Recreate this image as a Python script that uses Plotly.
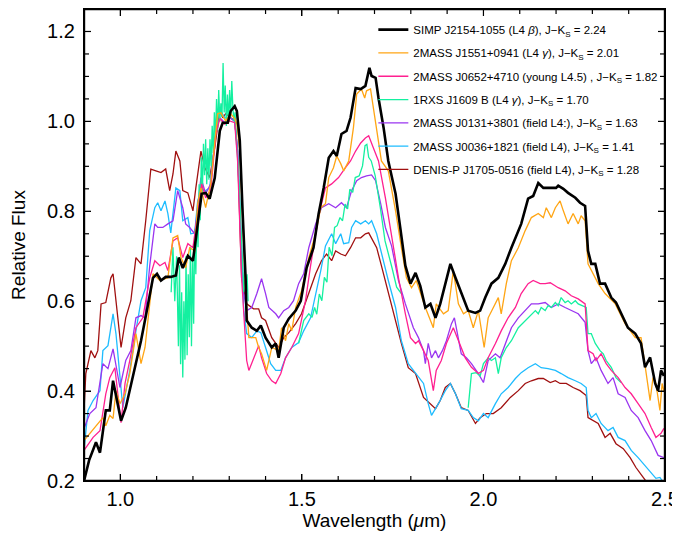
import plotly.graph_objects as go

# ---- SIMP J2154-1055 (black) ----
bk_wl = [0.900,0.914,0.933,0.944,0.960,0.971,0.980,0.991,1.002,1.015,1.029,1.043,1.057,1.073,1.090,1.101,1.112,1.125,1.139,1.153,1.161,1.172,1.186,1.200,1.213,1.224,1.235,1.246,1.260,1.274,1.282,1.296,1.304,1.315,1.321,1.329,1.337,1.345,1.348,1.362,1.376,1.387,1.400,1.417,1.428,1.436,1.450,1.464,1.483,1.497,1.513,1.532,1.546,1.560,1.574,1.587,1.596,1.609,1.623,1.634,1.648,1.662,1.675,1.686,1.692,1.703,1.711,1.725,1.738,1.758,1.771,1.785,1.799,1.813,1.826,1.840,1.854,1.868,1.881,1.898,1.909,1.923,1.939,1.958,1.978,1.991,2.005,2.022,2.041,2.060,2.077,2.104,2.123,2.137,2.151,2.165,2.184,2.200,2.206,2.220,2.233,2.253,2.266,2.280,2.288,2.297,2.308,2.321,2.335,2.352,2.365,2.379,2.398,2.418,2.434,2.445,2.459,2.473,2.481,2.489,2.497]
bk_fx = [0.200,0.246,0.286,0.263,0.357,0.357,0.423,0.379,0.334,0.363,0.412,0.468,0.512,0.579,0.652,0.661,0.646,0.654,0.654,0.657,0.697,0.674,0.701,0.690,0.772,0.839,0.841,0.828,0.874,0.979,0.997,0.997,1.023,1.034,1.023,0.957,0.794,0.652,0.557,0.541,0.534,0.546,0.519,0.497,0.506,0.474,0.541,0.561,0.579,0.601,0.674,0.719,0.794,0.852,0.919,0.934,0.923,0.972,0.979,1.008,1.074,1.072,1.079,1.119,1.101,1.097,1.052,0.986,0.912,0.839,0.763,0.679,0.639,0.663,0.634,0.586,0.594,0.563,0.594,0.646,0.683,0.652,0.617,0.579,0.574,0.579,0.608,0.639,0.652,0.683,0.719,0.772,0.828,0.834,0.863,0.852,0.852,0.852,0.857,0.850,0.841,0.830,0.819,0.812,0.712,0.683,0.683,0.639,0.639,0.608,0.597,0.572,0.541,0.528,0.506,0.453,0.475,0.417,0.401,0.446,0.434]

# ---- 2MASS J1551+0941 (orange) ----
or_wl = [0.900,0.927,0.952,0.960,0.971,0.980,0.988,0.999,1.013,1.026,1.043,1.057,1.068,1.081,1.090,1.109,1.131,1.145,1.158,1.167,1.180,1.191,1.205,1.213,1.222,1.235,1.249,1.268,1.277,1.290,1.304,1.315,1.321,1.329,1.337,1.345,1.354,1.373,1.381,1.389,1.403,1.417,1.436,1.444,1.455,1.464,1.472,1.483,1.499,1.519,1.538,1.552,1.565,1.574,1.587,1.596,1.607,1.615,1.629,1.642,1.651,1.664,1.673,1.678,1.689,1.697,1.706,1.719,1.738,1.758,1.774,1.788,1.802,1.815,1.840,1.862,1.870,1.890,1.903,1.917,1.931,1.945,1.958,1.972,1.986,2.002,2.013,2.033,2.041,2.049,2.063,2.077,2.096,2.115,2.132,2.151,2.165,2.173,2.187,2.198,2.211,2.220,2.233,2.247,2.261,2.269,2.280,2.288,2.316,2.335,2.363,2.390,2.418,2.434,2.445,2.459,2.467,2.475,2.486,2.492,2.497]
or_fx = [0.290,0.317,0.341,0.323,0.346,0.339,0.401,0.372,0.394,0.439,0.528,0.461,0.497,0.594,0.661,0.646,0.652,0.741,0.746,0.697,0.674,0.719,0.712,0.817,0.852,0.808,0.861,1.017,1.019,1.001,1.017,1.006,0.994,0.934,0.779,0.623,0.519,0.519,0.497,0.483,0.446,0.497,0.490,0.541,0.512,0.550,0.534,0.586,0.623,0.697,0.750,0.808,0.817,0.875,0.897,0.923,0.906,0.890,0.912,0.986,1.061,1.072,1.052,1.068,1.072,1.030,0.986,0.912,0.890,0.801,0.719,0.652,0.630,0.646,0.586,0.541,0.594,0.572,0.579,0.668,0.594,0.572,0.579,0.541,0.579,0.497,0.563,0.594,0.608,0.572,0.639,0.690,0.719,0.757,0.786,0.795,0.786,0.808,0.786,0.808,0.823,0.801,0.772,0.795,0.772,0.790,0.779,0.683,0.639,0.617,0.594,0.550,0.519,0.519,0.453,0.379,0.430,0.417,0.357,0.417,0.400]

# ---- 2MASS J0652+4710 (pink) ----
pk_wl = [0.900,0.905,0.925,0.944,0.960,0.971,0.985,1.002,1.013,1.026,1.043,1.062,1.081,1.095,1.109,1.123,1.131,1.145,1.158,1.172,1.186,1.200,1.213,1.224,1.235,1.249,1.263,1.274,1.288,1.301,1.315,1.323,1.334,1.348,1.354,1.367,1.381,1.389,1.403,1.417,1.428,1.442,1.455,1.472,1.491,1.510,1.524,1.546,1.565,1.582,1.601,1.620,1.634,1.648,1.662,1.675,1.684,1.697,1.711,1.730,1.747,1.766,1.785,1.799,1.813,1.821,1.835,1.848,1.862,1.870,1.884,1.898,1.917,1.931,1.950,1.967,1.986,2.000,2.013,2.033,2.049,2.068,2.088,2.104,2.123,2.137,2.156,2.170,2.184,2.206,2.225,2.242,2.261,2.280,2.288,2.302,2.310,2.324,2.338,2.352,2.371,2.390,2.407,2.426,2.445,2.462,2.475,2.489,2.497]
pk_fx = [0.268,0.274,0.297,0.312,0.394,0.430,0.452,0.330,0.417,0.468,0.541,0.563,0.652,0.690,0.679,0.686,0.668,0.734,0.741,0.697,0.728,0.719,0.801,0.861,0.830,0.846,0.972,1.006,0.994,1.001,0.997,0.912,0.652,0.468,0.446,0.474,0.501,0.474,0.439,0.423,0.417,0.439,0.474,0.497,0.528,0.601,0.679,0.790,0.852,0.861,0.875,0.897,0.912,0.934,0.952,0.963,0.968,0.941,0.912,0.830,0.741,0.652,0.572,0.519,0.506,0.512,0.490,0.468,0.401,0.446,0.468,0.506,0.541,0.512,0.474,0.453,0.439,0.446,0.474,0.506,0.534,0.563,0.586,0.617,0.639,0.646,0.639,0.639,0.641,0.630,0.623,0.612,0.605,0.594,0.490,0.483,0.468,0.483,0.461,0.446,0.430,0.408,0.394,0.372,0.350,0.319,0.297,0.306,0.317]

# ---- 1RXS J1609 B (green), three band segments ----
gj_wl = [1.140,1.145,1.150,1.155,1.160,1.163,1.166,1.169,1.172,1.175,1.178,1.181,1.184,1.187,1.190,1.193,1.196,1.199,1.202,1.205,1.208,1.211,1.214,1.217,1.220,1.223,1.226,1.229,1.232,1.235,1.238,1.241,1.244,1.247,1.250,1.253,1.256,1.259,1.262,1.265,1.268,1.271,1.274,1.277,1.280,1.283,1.286,1.289,1.292,1.295,1.298,1.301,1.304,1.307,1.310,1.313,1.316,1.320,1.325,1.330,1.335,1.340,1.343,1.346,1.349,1.352]
gj_fx = [0.62,0.72,0.60,0.70,0.50,0.68,0.46,0.62,0.43,0.60,0.47,0.70,0.48,0.66,0.52,0.72,0.50,0.70,0.55,0.76,0.66,0.80,0.72,0.86,0.78,0.92,0.84,0.95,0.88,0.96,0.86,0.94,0.87,0.96,0.90,0.99,0.93,1.02,0.96,1.05,0.98,1.07,1.00,1.04,1.01,1.13,1.02,1.08,0.99,1.06,1.00,1.07,1.01,1.09,1.03,1.00,1.02,0.95,0.90,0.80,0.68,0.62,0.68,0.60,0.66,0.60]
gh_wl = [1.491,1.505,1.519,1.528,1.535,1.541,1.548,1.555,1.562,1.569,1.575,1.583,1.590,1.597,1.605,1.612,1.619,1.626,1.632,1.640,1.647,1.658,1.667,1.674,1.679,1.684,1.691,1.702,1.716,1.729,1.748,1.761,1.775]
gh_fx = [0.506,0.557,0.572,0.564,0.586,0.571,0.616,0.601,0.653,0.642,0.720,0.701,0.764,0.768,0.786,0.779,0.816,0.805,0.849,0.842,0.875,0.879,0.901,0.946,0.949,0.920,0.912,0.879,0.808,0.734,0.675,0.631,0.616]
gk_wl = [1.958,1.967,1.980,1.991,2.000,2.013,2.022,2.033,2.041,2.049,2.063,2.077,2.096,2.115,2.132,2.143,2.151,2.159,2.170,2.178,2.187,2.198,2.206,2.214,2.225,2.233,2.242,2.253,2.261,2.275,2.283,2.288,2.297,2.308,2.321,2.330,2.338,2.352,2.365,2.379]
gk_fx = [0.363,0.439,0.441,0.434,0.461,0.474,0.468,0.474,0.439,0.474,0.497,0.512,0.541,0.557,0.572,0.579,0.572,0.586,0.579,0.590,0.586,0.597,0.590,0.608,0.597,0.601,0.594,0.601,0.594,0.590,0.586,0.528,0.528,0.506,0.490,0.483,0.468,0.453,0.430,0.419]

# ---- 2MASS J0131+3801 (purple) ----
pu_wl = [0.900,0.916,0.933,0.952,0.966,0.980,0.999,1.015,1.029,1.043,1.057,1.068,1.081,1.090,1.095,1.103,1.117,1.131,1.145,1.158,1.172,1.180,1.191,1.205,1.213,1.222,1.235,1.249,1.263,1.274,1.288,1.301,1.315,1.323,1.332,1.340,1.348,1.362,1.376,1.389,1.400,1.409,1.428,1.436,1.450,1.464,1.477,1.491,1.505,1.519,1.538,1.554,1.574,1.593,1.609,1.623,1.637,1.651,1.664,1.678,1.692,1.703,1.717,1.730,1.747,1.766,1.785,1.807,1.821,1.835,1.840,1.848,1.857,1.868,1.876,1.887,1.898,1.912,1.920,1.931,1.939,1.953,1.967,1.986,2.000,2.013,2.033,2.046,2.060,2.077,2.096,2.115,2.132,2.151,2.170,2.187,2.206,2.225,2.242,2.261,2.280,2.288,2.297,2.310,2.324,2.343,2.357,2.371,2.390,2.407,2.426,2.445,2.462,2.481,2.497]
pu_fx = [0.317,0.350,0.363,0.461,0.450,0.494,0.408,0.468,0.490,0.563,0.568,0.563,0.679,0.734,0.772,0.764,0.764,0.772,0.779,0.846,0.808,0.772,0.764,0.750,0.817,0.875,0.839,0.861,0.979,1.008,0.997,1.008,1.001,0.934,0.757,0.617,0.579,0.586,0.617,0.650,0.617,0.586,0.572,0.563,0.579,0.586,0.601,0.639,0.661,0.719,0.772,0.808,0.817,0.808,0.819,0.808,0.846,0.868,0.875,0.879,0.881,0.868,0.817,0.764,0.723,0.646,0.594,0.541,0.519,0.490,0.461,0.506,0.474,0.490,0.474,0.490,0.512,0.550,0.563,0.512,0.483,0.474,0.461,0.439,0.419,0.468,0.483,0.474,0.506,0.541,0.563,0.579,0.594,0.594,0.597,0.586,0.594,0.586,0.579,0.572,0.553,0.490,0.461,0.474,0.446,0.417,0.430,0.394,0.386,0.357,0.341,0.312,0.290,0.257,0.252]

# ---- 2MASS J0036+1821 (sky blue) ----
cy_wl = [0.900,0.911,0.925,0.944,0.952,0.966,0.980,0.988,1.007,1.026,1.043,1.057,1.070,1.081,1.095,1.103,1.112,1.123,1.131,1.139,1.153,1.164,1.172,1.186,1.194,1.205,1.213,1.222,1.235,1.246,1.260,1.268,1.277,1.288,1.301,1.315,1.323,1.332,1.340,1.348,1.362,1.376,1.387,1.400,1.414,1.428,1.442,1.455,1.472,1.491,1.505,1.524,1.538,1.552,1.565,1.582,1.593,1.607,1.615,1.629,1.637,1.648,1.662,1.675,1.684,1.692,1.706,1.719,1.738,1.758,1.774,1.793,1.813,1.835,1.848,1.857,1.876,1.895,1.909,1.923,1.939,1.958,1.972,1.986,2.000,2.013,2.033,2.049,2.068,2.088,2.104,2.123,2.143,2.159,2.178,2.198,2.214,2.233,2.253,2.269,2.283,2.288,2.297,2.310,2.324,2.343,2.357,2.371,2.390,2.407,2.426,2.445,2.462,2.475,2.486,2.497]
cy_fx = [0.268,0.357,0.379,0.401,0.490,0.501,0.572,0.528,0.363,0.446,0.534,0.601,0.630,0.757,0.808,0.819,0.801,0.823,0.795,0.752,0.852,0.846,0.779,0.786,0.750,0.752,0.823,0.846,0.846,0.852,0.957,1.023,1.023,1.008,1.008,1.001,0.934,0.734,0.579,0.528,0.519,0.534,0.530,0.497,0.461,0.446,0.446,0.474,0.497,0.508,0.534,0.563,0.612,0.668,0.723,0.750,0.728,0.750,0.728,0.730,0.764,0.779,0.772,0.779,0.772,0.779,0.750,0.705,0.646,0.586,0.512,0.461,0.439,0.417,0.372,0.346,0.372,0.401,0.417,0.394,0.361,0.357,0.341,0.334,0.350,0.341,0.372,0.394,0.408,0.428,0.441,0.452,0.461,0.452,0.450,0.446,0.439,0.430,0.423,0.417,0.408,0.357,0.341,0.350,0.328,0.312,0.319,0.297,0.290,0.268,0.252,0.234,0.217,0.206,0.208,0.195]

# ---- DENIS-P J1705-0516 (dark red) ----
br_wl = [0.900,0.905,0.919,0.930,0.938,0.947,0.960,0.974,0.980,0.988,1.002,1.015,1.029,1.043,1.057,1.070,1.084,1.098,1.112,1.125,1.136,1.145,1.153,1.164,1.172,1.186,1.200,1.208,1.222,1.233,1.246,1.260,1.274,1.282,1.290,1.304,1.315,1.323,1.334,1.348,1.367,1.381,1.389,1.400,1.417,1.436,1.450,1.464,1.483,1.499,1.519,1.538,1.554,1.568,1.582,1.593,1.607,1.620,1.634,1.648,1.662,1.675,1.684,1.692,1.706,1.719,1.738,1.758,1.774,1.793,1.813,1.835,1.854,1.868,1.881,1.895,1.909,1.923,1.939,1.958,1.978,1.991,2.008,2.027,2.049,2.074,2.096,2.115,2.132,2.151,2.165,2.184,2.198,2.211,2.228,2.247,2.266,2.283,2.288,2.302,2.316,2.335,2.349,2.365,2.385,2.404,2.420,2.440,2.453,2.470]
br_fx = [0.357,0.439,0.490,0.474,0.490,0.594,0.597,0.652,0.661,0.601,0.497,0.563,0.601,0.697,0.683,0.779,0.894,0.890,0.886,0.894,0.846,0.883,0.934,0.912,0.846,0.841,0.801,0.852,0.934,0.897,0.875,0.941,1.023,1.008,1.017,1.008,1.001,0.934,0.652,0.594,0.583,0.583,0.563,0.557,0.519,0.497,0.519,0.530,0.550,0.572,0.617,0.661,0.690,0.705,0.690,0.712,0.705,0.701,0.719,0.741,0.741,0.750,0.752,0.741,0.719,0.679,0.617,0.557,0.506,0.452,0.439,0.386,0.372,0.361,0.379,0.408,0.417,0.394,0.363,0.357,0.328,0.341,0.350,0.350,0.363,0.386,0.401,0.417,0.423,0.428,0.428,0.419,0.423,0.417,0.417,0.408,0.401,0.390,0.341,0.334,0.328,0.297,0.306,0.283,0.272,0.252,0.230,0.208,0.194,0.168]

names = [
    "SIMP J2154-1055 (L4 <i>β</i>), J\u2212K<sub>S</sub> = 2.24",
    "2MASS J1551+0941 (L4 <i>γ</i>), J\u2212K<sub>S</sub> = 2.01",
    "2MASS J0652+4710 (young L4.5) , J\u2212K<sub>S</sub> = 1.82",
    "1RXS J1609 B (L4 <i>γ</i>), J\u2212K<sub>S</sub> = 1.70",
    "2MASS J0131+3801 (field L4:), J\u2212K<sub>S</sub> = 1.63",
    "2MASS J0036+1821 (field L4), J\u2212K<sub>S</sub> = 1.41",
    "DENIS-P J1705-0516 (field L4), J\u2212K<sub>S</sub> = 1.28",
]

# axis ranges and tick positions
X_RANGE = [0.9, 2.5]
Y_RANGE = [0.2, 1.25]
x_ticks = [1.0, 1.1, 1.2, 1.3, 1.4, 1.5, 1.6, 1.7, 1.8, 1.9, 2.0, 2.1, 2.2, 2.3, 2.4]
x_major = [1.0, 1.5, 2.0, 2.5]
y_ticks = [0.25, 0.3, 0.35, 0.4, 0.45, 0.5, 0.55, 0.6, 0.65, 0.7, 0.75, 0.8, 0.85, 0.9, 0.95, 1.0, 1.05, 1.1, 1.15, 1.2]
y_major = [0.2, 0.4, 0.6, 0.8, 1.0, 1.2]

gr_wl = gj_wl + [None] + gh_wl + [None] + gk_wl
gr_fx = gj_fx + [None] + gh_fx + [None] + gk_fx

# drawing order (bottom to top); rank = position in the legend
series = [
    (br_wl, br_fx, 6, "#a01010", 1.3),
    (cy_wl, cy_fx, 5, "#1ebcff", 1.3),
    (pu_wl, pu_fx, 4, "#9a35f0", 1.3),
    (gr_wl, gr_fx, 3, "#14f0a0", 1.3),
    (pk_wl, pk_fx, 2, "#ff2090", 1.3),
    (or_wl, or_fx, 1, "#ffa514", 1.3),
    (bk_wl, bk_fx, 0, "#000000", 2.6),
]

fig = go.Figure()
for wl, fx, rank, col, w in series:
    assert len(wl) == len(fx), names[rank]
    fig.add_trace(go.Scatter(x=wl, y=fx, mode="lines", name=names[rank],
                             legendgroup="g%d" % rank, legendrank=rank + 1,
                             connectgaps=False,
                             line=dict(color=col, width=w)))

# ---- plot frame and inward ticks on all four sides (line traces) ----
x0, x1 = X_RANGE
y0, y1 = Y_RANGE
px_per_x = 581.0 / (x1 - x0)   # plot-area pixels per unit
px_per_y = 472.0 / (y1 - y0)
fig.add_trace(go.Scatter(x=[x0, x1, x1, x0, x0], y=[y0, y0, y1, y1, y0], mode="lines",
                         showlegend=False, hoverinfo="skip",
                         line=dict(color="black", width=2.4)))
tx, ty = [], []
for t in x_ticks:
    L = (7 if any(abs(t - m) < 1e-9 for m in x_major) else 5) / px_per_y
    tx += [t, t, None, t, t, None]
    ty += [y0, y0 + L, None, y1, y1 - L, None]
for v in y_ticks:
    L = (7 if any(abs(v - m) < 1e-9 for m in y_major) else 5) / px_per_x
    tx += [x0, x0 + L, None, x1, x1 - L, None]
    ty += [v, v, None, v, v, None]
fig.add_trace(go.Scatter(x=tx, y=ty, mode="lines", showlegend=False,
                         hoverinfo="skip", connectgaps=False,
                         line=dict(color="black", width=1.2)))

FONT = "Liberation Sans, Arial, Helvetica, sans-serif"
# the page adds an 8 px body margin, so the figure is 8 px smaller on each axis
fig.update_layout(
    width=672, height=528,
    margin=dict(l=76, r=15, t=1, b=55, autoexpand=False),
    paper_bgcolor="white", plot_bgcolor="white",
    font=dict(family=FONT, color="black", size=20),
    showlegend=True,
    legend=dict(x=0.498, y=0.987, xanchor="left", yanchor="top",
                bgcolor="rgba(0,0,0,0)", borderwidth=0,
                font=dict(size=11.5, family=FONT),
                traceorder="grouped", tracegroupgap=4.3,
                itemwidth=30),
)
fig.update_xaxes(
    range=X_RANGE, showgrid=False, zeroline=False,
    showline=True, linecolor="black", linewidth=1.2, mirror="ticks",
    tickmode="array", tickvals=x_major, ticktext=["%.1f" % v for v in x_major],
    ticks="inside", ticklen=7, tickcolor="black", tickwidth=1.2,
    tickfont=dict(size=20, color="black"),
    title=dict(text="Wavelength (<i>μ</i>m)", font=dict(size=19), standoff=0),
)
fig.update_yaxes(
    range=Y_RANGE, showgrid=False, zeroline=False,
    showline=True, linecolor="black", linewidth=1.2, mirror="ticks",
    tickmode="array", tickvals=y_major, ticktext=["%.1f" % v for v in y_major],
    ticks="inside", ticklen=7, tickcolor="black", tickwidth=1.2,
    tickfont=dict(size=20, color="black"), ticklabelstandoff=4,
    title=dict(text="Relative Flux", font=dict(size=19), standoff=19),
)

fig.write_html("out.html")
